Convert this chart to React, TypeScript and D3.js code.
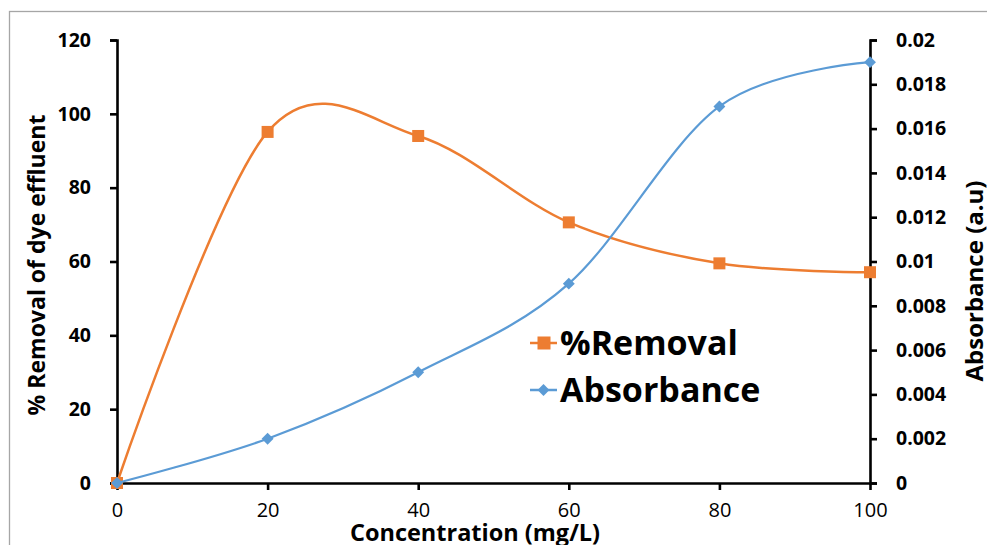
import React, { useEffect, useRef } from 'react'
import * as d3 from 'd3'

const concentration = [0, 20, 40, 60, 80, 100]
const removal = [0, 95.1, 94, 70.6, 59.5, 57.1]
const absorbance = [0, 0.002, 0.005, 0.009, 0.017, 0.019]
const xTicks = [0, 20, 40, 60, 80, 100]
const leftTicks = [0, 20, 40, 60, 80, 100, 120]
const rightTicks = [0, 0.002, 0.004, 0.006, 0.008, 0.01, 0.012, 0.014, 0.016, 0.018, 0.02]

const W = 987
const H = 545
const FONT = '"Open Sans", sans-serif'
const ORANGE = '#ED7D31'
const BLUE = '#5B9BD5'

const App = () => {
  const ref = useRef<SVGSVGElement>(null)

  useEffect(() => {
    const svg = d3.select(ref.current)
    svg.selectAll('*').remove()

    // frame
    svg.append('rect')
      .attr('x', 9.5).attr('y', 11.5)
      .attr('width', W).attr('height', H)
      .attr('fill', 'none').attr('stroke', '#a6a6a6').attr('stroke-width', 1.3)

    const x = d3.scaleLinear().domain([0, 100]).range([117, 870])
    const yL = d3.scaleLinear().domain([0, 120]).range([483, 40])
    const yR = d3.scaleLinear().domain([0, 0.02]).range([483, 40])

    const axisStyle = (g: any) => {
      g.select('.domain').attr('stroke', '#000').attr('stroke-width', 2.6)
      g.selectAll('.tick line').attr('stroke', '#000').attr('stroke-width', 2.6)
    }

    // x axis
    const gx = svg.append('g').attr('transform', 'translate(0,483)')
      .call(d3.axisBottom(x).tickValues(xTicks).tickSize(7).tickSizeOuter(0).tickPadding(13))
    axisStyle(gx)
    gx.selectAll('.tick text').attr('font-family', FONT).attr('font-size', 20).attr('fill', '#000').attr('dy', '0.7em')

    // left axis
    const gl = svg.append('g').attr('transform', 'translate(117,0)')
      .call(d3.axisLeft(yL).tickValues(leftTicks).tickSize(7).tickSizeOuter(7).tickPadding(19))
    axisStyle(gl)
    gl.selectAll('.tick text').attr('font-family', FONT).attr('font-size', 19.5).attr('font-weight', 'bold').attr('fill', '#000')

    // right axis
    const gr = svg.append('g').attr('transform', 'translate(870,0)')
      .call(d3.axisRight(yR).tickValues(rightTicks).tickSize(7).tickSizeOuter(7).tickPadding(19)
        .tickFormat((d: any) => d3.format('~g')(d)))
    axisStyle(gr)
    gr.selectAll('.tick text').attr('font-family', FONT).attr('font-size', 19.5).attr('font-weight', 'bold').attr('fill', '#000')

    // titles
    svg.append('text')
      .attr('x', 475).attr('y', 541)
      .attr('text-anchor', 'middle')
      .attr('font-family', FONT).attr('font-size', 23.5).attr('font-weight', 'bold')
      .text('Concentration (mg/L)')
    svg.append('text')
      .attr('transform', 'translate(45,265) rotate(-90)')
      .attr('text-anchor', 'middle')
      .attr('font-family', FONT).attr('font-size', 23).attr('font-weight', 'bold')
      .text('% Removal of dye effluent')
    svg.append('text')
      .attr('transform', 'translate(983,281) rotate(-90)')
      .attr('text-anchor', 'middle')
      .attr('font-family', FONT).attr('font-size', 24).attr('font-weight', 'bold')
      .text('Absorbance (a.u)')

    // series
    const lineL = d3.line<number>()
      .x((_, i) => x(concentration[i]))
      .y(d => yL(d))
      .curve(d3.curveCardinal.tension(0))
    const lineR = d3.line<number>()
      .x((_, i) => x(concentration[i]))
      .y(d => yR(d))
      .curve(d3.curveCardinal.tension(0))

    svg.append('path').datum(removal)
      .attr('d', lineL).attr('fill', 'none').attr('stroke', ORANGE).attr('stroke-width', 2.5)
    svg.selectAll('.sq').data(removal).enter().append('rect')
      .attr('x', (_, i) => x(concentration[i]) - 6)
      .attr('y', d => yL(d) - 6)
      .attr('width', 12).attr('height', 12)
      .attr('fill', ORANGE)

    svg.append('path').datum(absorbance)
      .attr('d', lineR).attr('fill', 'none').attr('stroke', BLUE).attr('stroke-width', 2.2)
    const diamond = d3.symbol().type(d3.symbolDiamond2).size(90)
    svg.selectAll('.dm').data(absorbance).enter().append('path')
      .attr('d', diamond)
      .attr('transform', (d, i) => `translate(${x(concentration[i])},${yR(d)})`)
      .attr('fill', BLUE)

    // legend
    const legend = [
      { name: '%Removal', color: ORANGE, y: 343, marker: 'square' },
      { name: 'Absorbance', color: BLUE, y: 390, marker: 'diamond' },
    ]
    legend.forEach(l => {
      svg.append('line')
        .attr('x1', 530).attr('x2', 557).attr('y1', l.y).attr('y2', l.y)
        .attr('stroke', l.color).attr('stroke-width', 2.5)
      if (l.marker === 'square') {
        svg.append('rect').attr('x', 537.5).attr('y', l.y - 6.5).attr('width', 13).attr('height', 13).attr('fill', l.color)
      } else {
        svg.append('path').attr('d', diamond).attr('transform', `translate(543.5,${l.y})`).attr('fill', l.color)
      }
      svg.append('text')
        .attr('x', 560).attr('y', l.y + 12)
        .attr('font-family', FONT).attr('font-size', 34).attr('font-weight', 'bold')
        .text(l.name)
    })
  }, [])

  return (
    <svg ref={ref} width={W} height={H}
      style={{ position: 'absolute', left: 0, top: 0, background: '#fff' }} />
  )
}

export default App
